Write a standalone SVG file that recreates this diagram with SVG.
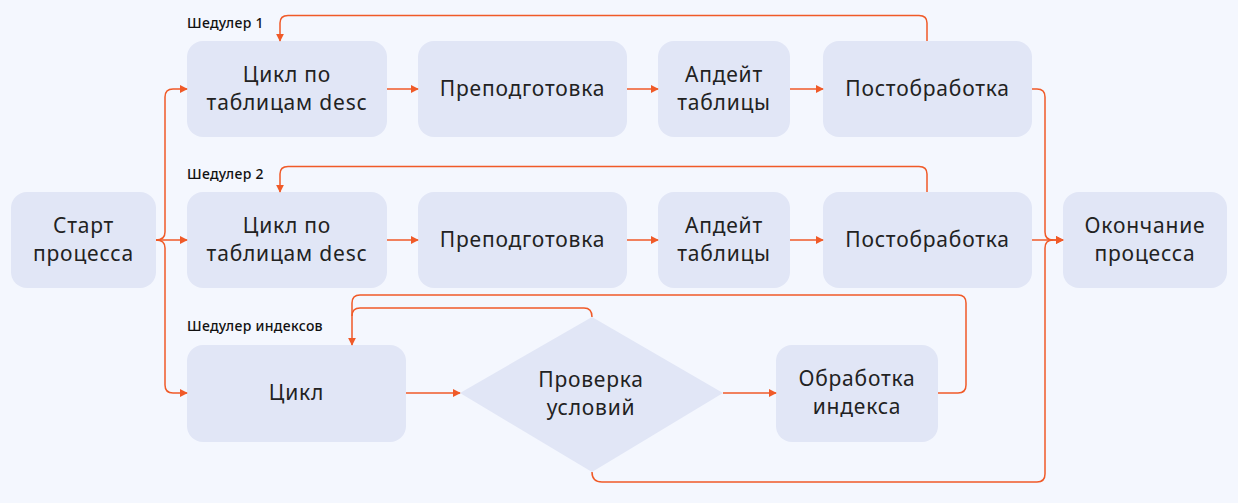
<svg xmlns="http://www.w3.org/2000/svg" width="1238" height="503" viewBox="0 0 1238 503">
<defs>
<style>
.n{fill:#E1E6F6}
.t{font-family:"Noto Sans","Open Sans",sans-serif;font-size:21px;letter-spacing:0.8px;fill:#222;text-anchor:middle}
.l{font-family:"Noto Sans","Open Sans",sans-serif;font-size:14px;letter-spacing:0.3px;font-weight:500;fill:#111}
.c{fill:none;stroke:#F05A28;stroke-width:1.5}
</style>
<marker id="a" viewBox="0 0 10 10" refX="9" refY="5" markerWidth="8" markerHeight="8" markerUnits="userSpaceOnUse" orient="auto">
<path d="M0,0 L10,5 L0,10 z" fill="#F05A28"/>
</marker>
</defs>
<rect width="1238" height="503" fill="#F4F7FE"/>
<text class="l" x="187" y="28">Шедулер 1</text>
<text class="l" x="187" y="179">Шедулер 2</text>
<text class="l" x="187" y="331">Шедулер индексов</text>
<g id="start"><rect class="n" x="11" y="192" width="145" height="96" rx="16"/><text class="t" x="83.5" y="233">Старт</text><text class="t" x="83.5" y="261">процесса</text></g>
<g id="cycle1"><rect class="n" x="187" y="41" width="200" height="96" rx="16"/><text class="t" x="287" y="82">Цикл по</text><text class="t" x="287" y="110">таблицам desc</text></g>
<g id="prep1"><rect class="n" x="418" y="41" width="209" height="96" rx="16"/><text class="t" x="522.5" y="96">Преподготовка</text></g>
<g id="upd1"><rect class="n" x="658" y="41" width="132" height="96" rx="16"/><text class="t" x="724" y="82">Апдейт</text><text class="t" x="724" y="110">таблицы</text></g>
<g id="post1"><rect class="n" x="823" y="41" width="209" height="96" rx="16"/><text class="t" x="927.5" y="96">Постобработка</text></g>
<g id="cycle2"><rect class="n" x="187" y="192" width="200" height="96" rx="16"/><text class="t" x="287" y="233">Цикл по</text><text class="t" x="287" y="261">таблицам desc</text></g>
<g id="prep2"><rect class="n" x="418" y="192" width="209" height="96" rx="16"/><text class="t" x="522.5" y="247">Преподготовка</text></g>
<g id="upd2"><rect class="n" x="658" y="192" width="132" height="96" rx="16"/><text class="t" x="724" y="233">Апдейт</text><text class="t" x="724" y="261">таблицы</text></g>
<g id="post2"><rect class="n" x="823" y="192" width="209" height="96" rx="16"/><text class="t" x="927.5" y="247">Постобработка</text></g>
<g id="end"><rect class="n" x="1063" y="192" width="164" height="96" rx="16"/><text class="t" x="1145" y="233">Окончание</text><text class="t" x="1145" y="261">процесса</text></g>
<g id="cycle3"><rect class="n" x="187" y="345" width="219" height="97" rx="16"/><text class="t" x="296.5" y="400">Цикл</text></g>
<g id="check"><path class="n" d="M460,393 L592,317 L723,393 L592,472 Z"/><text class="t" x="591" y="387">Проверка</text><text class="t" x="591" y="415">условий</text></g>
<g id="proc"><rect class="n" x="776" y="345" width="162" height="97" rx="16"/><text class="t" x="857" y="386">Обработка</text><text class="t" x="857" y="414">индекса</text></g>
<g id="connectors">
<path class="c" d="M156,240 H187" marker-end="url(#a)"/>
<path class="c" d="M156,240 Q165,240 165,232 V97 Q165,89 173,89 H187" marker-end="url(#a)"/>
<path class="c" d="M156,240 Q165,240 165,248 V385 Q165,393 173,393 H187" marker-end="url(#a)"/>
<path class="c" d="M387,89 H418" marker-end="url(#a)"/>
<path class="c" d="M627,89 H658" marker-end="url(#a)"/>
<path class="c" d="M790,89 H823" marker-end="url(#a)"/>
<path class="c" d="M927,41 V23 Q927,15.5 919,15.5 H288 Q280,15.5 280,23 V41" marker-end="url(#a)"/>
<path class="c" d="M387,240 H418" marker-end="url(#a)"/>
<path class="c" d="M627,240 H658" marker-end="url(#a)"/>
<path class="c" d="M790,240 H823" marker-end="url(#a)"/>
<path class="c" d="M927,192 V174 Q927,166.5 919,166.5 H288 Q280,166.5 280,174 V192" marker-end="url(#a)"/>
<path class="c" d="M1032,89 H1037 Q1045,89 1045,97 V232 Q1045,240 1053,240 H1063" marker-end="url(#a)"/>
<path class="c" d="M1032,240 H1063" marker-end="url(#a)"/>
<path class="c" d="M592,472 Q592,482 602,482 H1037 Q1045,482 1045,474 V248 Q1045,240 1053,240"/>
<path class="c" d="M406,393 H460" marker-end="url(#a)"/>
<path class="c" d="M723,393 H776" marker-end="url(#a)"/>
<path class="c" d="M938,393 H958 Q966,393 966,385 V303 Q966,295 958,295 H360 Q352,295 352,303 V345" marker-end="url(#a)"/>
<path class="c" d="M592,317 Q592,308 584,308 H360 Q352,308 352,316"/>
</g>
</svg>
